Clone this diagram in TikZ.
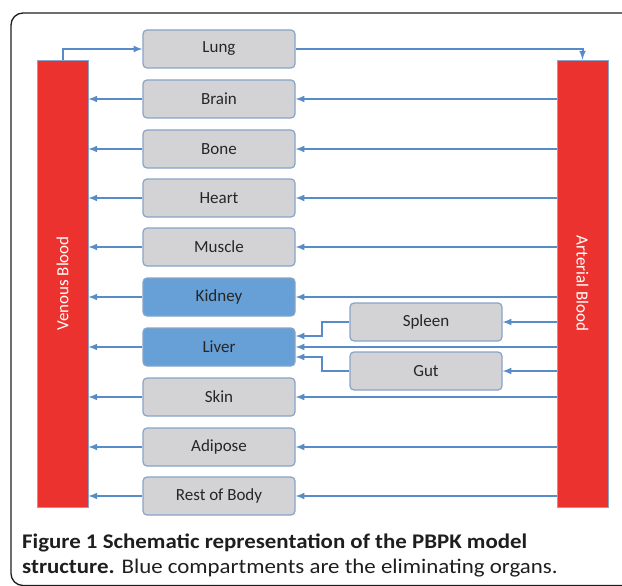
\documentclass[tikz,border=0pt]{standalone}
\usepackage{fontspec}
\setmainfont{Carlito}
\newfontfamily\capfont[FakeStretch=1.1]{Carlito}
\usetikzlibrary{positioning}
\definecolor{flowblue}{RGB}{88,140,200}
\definecolor{organgray}{RGB}{211,211,213}
\definecolor{elimblue}{RGB}{102,160,214}
\definecolor{bloodred}{RGB}{236,50,46}
\definecolor{edgeblue}{RGB}{136,164,200}
\definecolor{captext}{RGB}{30,30,30}

\tikzset{
  organ/.style={draw=edgeblue, line width=1.2pt, fill=organgray, rounded corners=4pt,
    minimum width=152pt, minimum height=38pt, inner sep=0pt,
    font=\fontsize{17}{19}\selectfont, text=black!85},
  elim/.style={organ, fill=elimblue},
  blood/.style={draw=edgeblue, line width=0.8pt, fill=bloodred, minimum width=51pt,
    minimum height=447pt, inner sep=0pt},
  bloodtext/.style={text=white, font=\fontsize{17}{19}\selectfont},
  flow/.style={->, draw=flowblue, line width=2pt},
}

\begin{document}
\begin{tikzpicture}[>=latex, x=1pt, y=-1pt]
    \useasboundingbox (0,0) rectangle (622,586);
    % outer frame
    \draw[line width=1.3pt, rounded corners=12pt, color=captext] (650,13)--(11,13)--(11,585.5)--(650,585.5);
    % blood pools
    \node[blood] (ven) at (62.5,283.5) {};
    \node[blood] (art) at (582.5,283.5) {};
    \node[bloodtext, rotate=90] (venlabel) at (ven.center) {Venous Blood};
    \node[bloodtext, rotate=-90] (artlabel) at (art.center) {Arterial Blood};
    % compartments
    \node[organ] (lung) at (219,49) {Lung};
    \foreach \nm/\txt/\yy/\st in {brain/Brain/99/organ, bone/Bone/149/organ, heart/Heart/198/organ,
        muscle/Muscle/247/organ, kidney/Kidney/297/elim, liver/Liver/347/elim, skin/Skin/397/organ,
        adipose/Adipose/447/organ, rest/Rest of Body/496/organ}
        \node[\st] (\nm) at (219,\yy) {\txt};
    \node[organ] (spleen) at (426,322) {Spleen};
    \node[organ] (gut) at (426,371) {Gut};
    % flows
    \draw[flow] (ven.north) |- (lung.west);
    \draw[flow] (lung.east) -| (art.north);
    \foreach \nm in {brain,bone,heart,muscle,kidney,liver,skin,adipose,rest}{
        \draw[flow] (\nm.east -| art.west) -- (\nm.east);
        \draw[flow] (\nm.west) -- (\nm.west -| ven.east);
    }
    \draw[flow] (spleen.east -| art.west) -- (spleen.east);
    \draw[flow] (gut.east -| art.west) -- (gut.east);
    \draw[flow] (spleen.west) -- ++(-27,0) |- ([yshift=11pt]liver.east);
    \draw[flow] (gut.west) -- ++(-27,0) |- ([yshift=-10pt]liver.east);
    % caption
    \node[anchor=base west, inner sep=0pt, text=captext, font=\fontsize{20.8}{24}\capfont\bfseries] (cap1) at (22,548)
        {Figure 1 Schematic representation of the PBPK model};
    \node[anchor=base west, inner sep=0pt, text=captext, font=\fontsize{20.8}{24}\capfont] (cap2) at (22,573)
        {\textbf{structure.} Blue compartments are the eliminating organs.};
\end{tikzpicture}
\end{document}
